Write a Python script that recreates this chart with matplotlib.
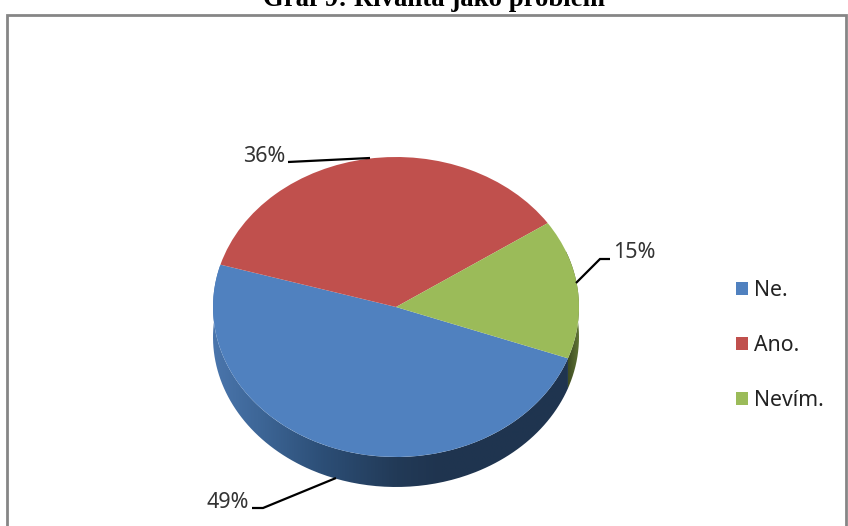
import numpy as np
import matplotlib
matplotlib.use("Agg")
import matplotlib.pyplot as plt
from matplotlib.colors import LinearSegmentedColormap
from matplotlib.patches import Rectangle, PathPatch
from matplotlib.path import Path

title = "Graf 9: Rivalita jako problém"
categories = ["Ne.", "Ano.", "Nevím."]
values = [49, 36, 15]
colors = ["#5081BF", "#C0504D", "#9BBB59"]
value_labels = ["49%", "36%", "15%"]

W, H = 848, 526
CX, CY, RX, RY, DEPTH = 396, 307, 183, 150, 30

def px(x, y):
    return (x - CX) / RX, (CY - y) / RY

fig = plt.figure(figsize=(W / 100, H / 100), dpi=100, facecolor="white")
ax = fig.add_axes([0, 0, 1, 1])

wedges, _ = ax.pie(values, colors=colors, startangle=-20, counterclock=False,
                   center=(0, 0), radius=1, wedgeprops=dict(linewidth=0, zorder=5))
ax.set_aspect("auto")
x0, y1 = px(0, 0)
x1, y0 = px(W, H)
ax.set_xlim(x0, x1)
ax.set_ylim(y0, y1)
ax.axis("off")

# extruded side of the pie, clipped from each wedge's own angles
depth = DEPTH / RY
def side(wedge, stops, xr):
    t = np.radians(np.linspace(wedge.theta1, wedge.theta2, 200))
    xs = np.cos(t)
    ys = np.sin(t)
    verts = np.r_[np.c_[xs, ys], np.c_[xs[::-1], ys[::-1] - depth]]
    clip = PathPatch(Path(np.r_[verts, verts[:1]]), transform=ax.transData, fc="none", ec="none")
    ax.add_patch(clip)
    cmap = LinearSegmentedColormap.from_list("s", stops)
    im = ax.imshow(np.linspace(0, 1, 256)[None, :], cmap=cmap, extent=[xr[0], xr[1], -1.3, 1],
                   aspect="auto", zorder=2, interpolation="bilinear")
    im.set_clip_path(clip)

side(wedges[0], [(0, "#4A75AC"), (0.12, "#3E6798"), (0.3, "#2C4E76"), (0.5, "#223A57"),
                 (0.62, "#1F344F"), (1, "#1F3550")], (-1, 1))
side(wedges[2], [(0, "#38451F"), (1, "#5F7335")], (0.93, 1))
ax.set_xlim(x0, x1)
ax.set_ylim(y0, y1)

# chart frame
frame_x, frame_y = px(7, 15)
fx2, fy2 = px(846, 540)
ax.add_patch(Rectangle((frame_x, fy2), fx2 - frame_x, frame_y - fy2, fill=False,
                       ec="#868686", lw=2, zorder=1, clip_on=True))

# title, cut by the top edge as in the source
tx, ty = px(434, 6)
ax.text(tx, ty, title, family="Liberation Serif", weight="bold", fontsize=19.3,
        ha="center", va="baseline", color="black", zorder=6)

# leader lines and value labels
leaders = [
    ([252, 263, 336], [508, 508, 478]),
    ([288, 370], [162, 158]),
    ([576, 600, 610], [283, 259, 259]),
]
label_pos = [(249, 503), (285, 156), (613, 253)]
label_ha = ["right", "right", "left"]
for (lx, ly), lab, (qx, qy), ha in zip(leaders, value_labels, label_pos, label_ha):
    p = [px(a, b) for a, b in zip(lx, ly)]
    ax.plot([a for a, _ in p], [b for _, b in p], color="black", lw=1.6, zorder=7,
            solid_capstyle="butt", solid_joinstyle="miter")
    a, b = px(qx, qy)
    ax.text(a, b, lab, family="Noto Sans", fontsize=15.5, color="#333333",
            ha=ha, va="center", zorder=7)

leg = ax.legend(wedges, categories, loc="upper left",
                bbox_to_anchor=(736 / W, 1 - 280 / H), bbox_transform=fig.transFigure,
                frameon=False, prop={"family": "Noto Sans", "size": 15.3},
                labelspacing=1.6, handlelength=0.57, handleheight=0.57,
                handletextpad=0.3, borderpad=0, borderaxespad=0, labelcolor="#222222")
leg.set_zorder(8)

fig.savefig("out.png", dpi=100, facecolor="white")
